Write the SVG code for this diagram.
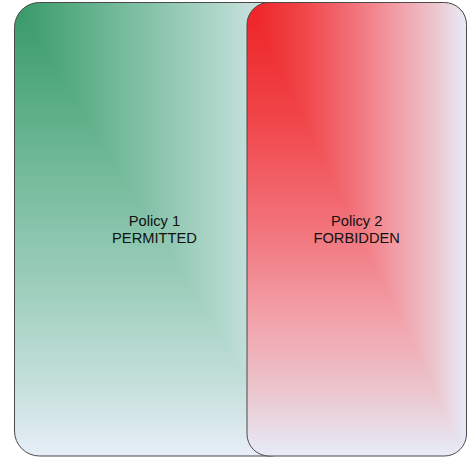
<svg xmlns="http://www.w3.org/2000/svg" width="468" height="459" viewBox="0 0 468 459">
<style>
.border{fill:none;stroke:#4d4949;stroke-width:1}
.lbl{font-family:"Liberation Sans",Arial,sans-serif;font-size:14.7px;fill:#111;text-anchor:middle}
</style>
<defs>
<linearGradient id="gV" gradientUnits="userSpaceOnUse" x1="0" y1="2" x2="0" y2="456">
<stop offset="0" stop-color="#379868"/><stop offset="0.25" stop-color="#5eb089"/><stop offset="0.5" stop-color="#88c4ab"/><stop offset="0.7" stop-color="#aad4c6"/><stop offset="0.85" stop-color="#c6e0dc"/><stop offset="1" stop-color="#e8eef8"/>
</linearGradient>
<linearGradient id="gH" gradientUnits="userSpaceOnUse" x1="14" y1="0" x2="295" y2="0">
<stop offset="0" stop-color="#379868"/><stop offset="0.25" stop-color="#5eb089"/><stop offset="0.5" stop-color="#88c4ab"/><stop offset="0.7" stop-color="#aad4c6"/><stop offset="0.85" stop-color="#c6e0dc"/><stop offset="1" stop-color="#e8eef8"/>
</linearGradient>
<linearGradient id="rV" gradientUnits="userSpaceOnUse" x1="0" y1="2" x2="0" y2="456">
<stop offset="0" stop-color="#ee2224"/><stop offset="0.25" stop-color="#f04448"/><stop offset="0.5" stop-color="#f2747c"/><stop offset="0.7" stop-color="#f2a2aa"/><stop offset="0.85" stop-color="#ecc4cc"/><stop offset="1" stop-color="#e6ecf8"/>
</linearGradient>
<linearGradient id="rH" gradientUnits="userSpaceOnUse" x1="247" y1="0" x2="466.5" y2="0">
<stop offset="0" stop-color="#ee2224"/><stop offset="0.25" stop-color="#f04448"/><stop offset="0.5" stop-color="#f2747c"/><stop offset="0.7" stop-color="#f2a2aa"/><stop offset="0.85" stop-color="#ecc4cc"/><stop offset="1" stop-color="#e6ecf8"/>
</linearGradient>
<clipPath id="cG"><rect x="14.5" y="2.5" width="281" height="453.5" rx="25"/></clipPath>
<clipPath id="cR"><rect x="247" y="2.5" width="219.5" height="453.5" rx="22"/></clipPath>
</defs>
<g id="policy1">
<g clip-path="url(#cG)">
<rect x="14" y="2" width="282" height="455" fill="url(#gV)"/>
<polygon points="14,2 296,2 296,457" fill="url(#gH)"/>
</g>
<rect class="border" x="14.5" y="2.5" width="281" height="453.5" rx="25"/>
<text class="lbl" x="154.5" y="226">Policy 1</text>
<text class="lbl" x="154.5" y="243">PERMITTED</text>
</g>
<g id="policy2">
<g clip-path="url(#cR)">
<rect x="247" y="2" width="220" height="455" fill="url(#rV)"/>
<polygon points="247,2 467,2 467,457" fill="url(#rH)"/>
</g>
<rect class="border" x="247" y="2.5" width="219.5" height="453.5" rx="22"/>
<text class="lbl" x="356.7" y="226">Policy 2</text>
<text class="lbl" x="356.7" y="243">FORBIDDEN</text>
</g>
<g id="connectors"/>
</svg>
